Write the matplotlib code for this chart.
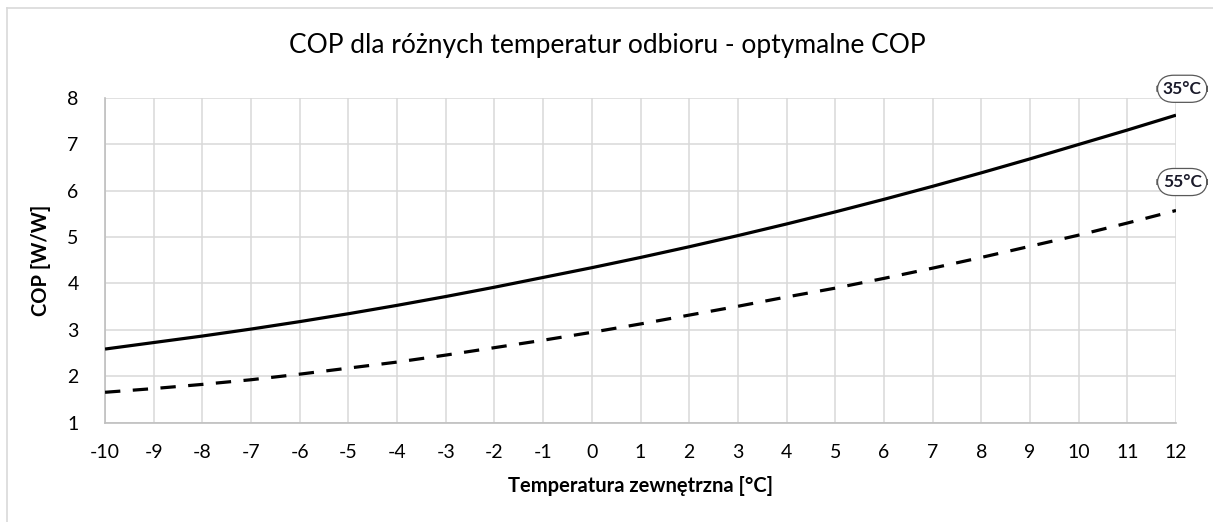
import matplotlib
matplotlib.use("Agg")
import matplotlib.pyplot as plt
from matplotlib.lines import Line2D

plt.rcParams['font.family'] = ['Lato', 'DejaVu Sans']

# data
temp_ext = [-10, -9, -8, -7, -6, -5, -4, -3, -2, -1, 0, 1, 2, 3, 4, 5, 6, 7, 8, 9, 10, 11, 12]
cop_35 = [2.59, 2.73, 2.87, 3.02, 3.18, 3.35, 3.53, 3.72, 3.92, 4.13, 4.34, 4.56, 4.79,
          5.03, 5.28, 5.54, 5.81, 6.09, 6.38, 6.68, 6.99, 7.30, 7.62]
cop_55 = [1.66, 1.74, 1.83, 1.93, 2.05, 2.18, 2.31, 2.46, 2.62, 2.78, 2.95, 3.13, 3.32,
          3.51, 3.71, 3.90, 4.11, 4.33, 4.56, 4.80, 5.04, 5.30, 5.57]
series_labels = ["35°C", "55°C"]
y_ticks = [1, 2, 3, 4, 5, 6, 7, 8]

fig = plt.figure(figsize=(12.13, 5.22), dpi=100)
ax = fig.add_axes([0.0866, 0.1897, 0.8829, 0.6235])

ax.plot(temp_ext, cop_35, color='black', lw=2.3, solid_capstyle='butt',
        solid_joinstyle='round', zorder=3)
ax.plot(temp_ext, cop_55, color='black', lw=2.3, linestyle=(0, (4.8, 3.9)),
        dash_capstyle='butt', zorder=3)

# end labels in rounded boxes
for vals, lab, dy in [(cop_35, series_labels[0], 19), (cop_55, series_labels[1], 20.5)]:
    ax.annotate(lab, xy=(temp_ext[-1], vals[-1]), xytext=(4.5, dy), textcoords='offset points',
                ha='center', va='center', fontsize=12.5, fontweight='bold', color='#1a1a2a',
                annotation_clip=False,
                bbox=dict(boxstyle='round,pad=0.32,rounding_size=0.95', fc='white',
                          ec='#595959', lw=0.9))

ax.set_xlim(temp_ext[0], temp_ext[-1])
ax.set_ylim(y_ticks[0], y_ticks[-1])
ax.set_xticks(temp_ext)
ax.set_xticklabels([str(t) for t in temp_ext])
ax.set_yticks(y_ticks)

ax.grid(True, color='#d9d9d9', lw=1.1)
ax.set_axisbelow(True)
for s in ['top', 'right']:
    ax.spines[s].set_visible(False)
for s in ['left', 'bottom']:
    ax.spines[s].set_color('#bfbfbf')
    ax.spines[s].set_linewidth(1.2)
ax.tick_params(length=0, labelsize=14, colors='black')
ax.tick_params(axis='x', pad=15)
ax.tick_params(axis='y', pad=19)

ax.set_xlabel("Temperatura zewnętrzna [°C]", fontsize=14.5, fontweight='bold', labelpad=11)
ax.set_ylabel("COP [W/W]", fontsize=14.5, fontweight='bold', labelpad=12)
fig.text(0.5008, 0.913, "COP dla różnych temperatur odbioru - optymalne COP",
         ha='center', va='center', fontsize=19)

# chart area border (left and top edges visible in the crop)
fig.add_artist(Line2D([7 / 1213, 7 / 1213], [0, 1 - 8 / 522], color='#d9d9d9', lw=1.2))
fig.add_artist(Line2D([7 / 1213, 1], [1 - 8 / 522, 1 - 8 / 522], color='#d9d9d9', lw=1.2))

fig.savefig("out.png", dpi=100)
